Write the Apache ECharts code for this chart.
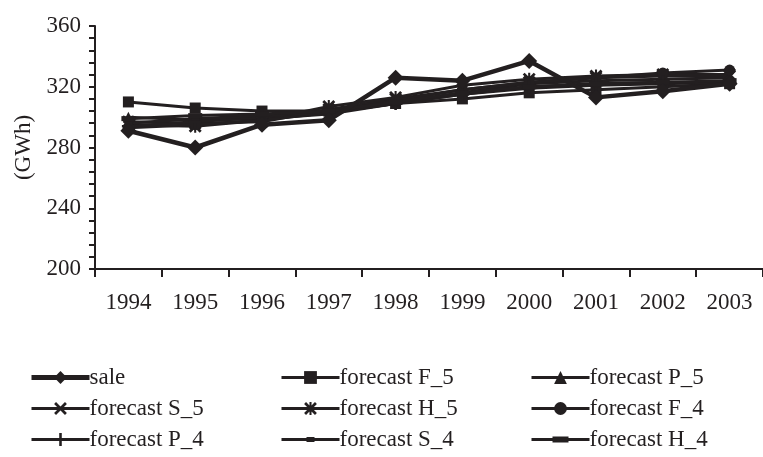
<!DOCTYPE html>
<html>
<head>
<meta charset="utf-8">
<script src="https://cdn.jsdelivr.net/npm/echarts@6/dist/echarts.min.js"></script>
<style>
html,body{margin:0;padding:0;background:#fff;}
#c{width:763px;height:457px;}
</style>
</head>
<body>
<div id="c"></div>
<script>
const years = ['1994','1995','1996','1997','1998','1999','2000','2001','2002','2003'];
const sale      = [291, 280, 295, 298, 326, 324, 337, 313, 317, 322];
const forecastF5 = [310, 306, 304, 304, 309, 312, 316, 318, 320, 322];
const forecastP5 = [300, 298, 299, 302, 309, 316, 322, 324, 325, 326];
const forecastS5 = [297, 296, 297, 305, 312, 318, 323, 326, 327, 327];
const forecastH5 = [295, 294, 298, 307, 313, 321, 325, 327, 328, 328];
const forecastF4 = [293, 295, 298, 303, 311, 318, 323, 326, 329, 331];
const forecastP4 = [294, 297, 300, 303, 309, 315, 320, 322, 323, 322];
const forecastS4 = [296, 299, 301, 303, 309, 315, 319, 321, 322, 323];
const forecastH4 = [299, 301, 302, 304, 310, 316, 320, 322, 323, 324];
const yTicks = [200, 240, 280, 320, 360];

const INK = '#231f20';
const FONT = 'Liberation Serif';
const X_PATH = 'path://M0,1.5 L1.5,0 L10,8.5 L8.5,10 Z M8.5,0 L10,1.5 L1.5,10 L0,8.5 Z';
const AST_PATH = 'path://M0,1.5 L1.5,0 L10,8.5 L8.5,10 Z M8.5,0 L10,1.5 L1.5,10 L0,8.5 Z M4.2,0 L5.8,0 L5.8,10 L4.2,10 Z';
const PLUS_PATH = 'path://M4,0 L6,0 L6,4 L10,4 L10,6 L6,6 L6,10 L4,10 L4,6 L0,6 L0,4 L4,4 Z';
const LEG_S4 = 'path://M0,5.5 L58,5.5 L58,8.5 L0,8.5 Z M25,4.5 L33,4.5 L33,9.5 L25,9.5 Z';
const LEG_H4 = 'path://M0,5.5 L58,5.5 L58,8.5 L0,8.5 Z M21,4 L37,4 L37,10 L21,10 Z';

function mk(name, data, symbol, size, width) {
  return {
    name: name, type: 'line', data: data,
    symbol: symbol, symbolSize: size,
    lineStyle: {color: INK, width: width},
    itemStyle: {color: INK, borderWidth: 0},
    animation: false, z: name === 'sale' ? 3 : 2
  };
}
const series = [
  mk('sale', sale, 'diamond', 16, 4.5),
  mk('forecast F_5', forecastF5, 'rect', 11, 3),
  mk('forecast P_5', forecastP5, 'triangle', 11, 3),
  mk('forecast S_5', forecastS5, X_PATH, 13, 3),
  mk('forecast H_5', forecastH5, AST_PATH, 13, 3),
  mk('forecast F_4', forecastF4, 'circle', 11, 3),
  mk('forecast P_4', forecastP4, PLUS_PATH, 13, 3),
  mk('forecast S_4', forecastS4, 'rect', [8, 4], 3),
  mk('forecast H_4', forecastH4, 'rect', [14, 5], 3)
];
const names = series.map(s => s.name);
function legItem(i) {
  const it = {name: names[i], lineStyle: {width: i === 0 ? 5 : 3, color: INK}};
  if (i === 7) it.icon = LEG_S4;
  if (i === 8) it.icon = LEG_H4;
  return it;
}
function leg(left, idx) {
  return {
    orient: 'vertical', left: left, top: 366, height: 120, padding: 0, itemGap: 8,
    itemWidth: 58, itemHeight: 16,
    data: idx.map(legItem),
    textStyle: {fontFamily: FONT, fontSize: 23, lineHeight: 23, color: INK, padding: [0,0,0,-5]},
    selectedMode: false
  };
}
const chart = echarts.init(document.getElementById('c'), null, {renderer: 'canvas'});
chart.setOption({
  animation: false,
  backgroundColor: '#fff',
  grid: {left: 95, right: -2, top: 26, bottom: 188, containLabel: false},
  legend: [leg(29, [0, 3, 6]), leg(280, [1, 4, 7]), leg(530, [2, 5, 8])],
  xAxis: {
    type: 'category', data: years, boundaryGap: true,
    axisLine: {lineStyle: {color: INK, width: 2}},
    axisTick: {show: true, length: 8, lineStyle: {color: INK, width: 2}},
    axisLabel: {fontFamily: FONT, fontSize: 23, color: INK, margin: 22}
  },
  yAxis: {
    type: 'value', min: yTicks[0], max: yTicks[yTicks.length-1], interval: 40,
    name: '(GWh)', nameLocation: 'middle', nameGap: 57, nameRotate: 90,
    nameTextStyle: {fontFamily: FONT, fontSize: 23, color: INK},
    axisLine: {show: true, lineStyle: {color: INK, width: 2}},
    axisTick: {show: true, length: 6, lineStyle: {color: INK, width: 2}},
    minorTick: {show: true, splitNumber: 5, length: 6, lineStyle: {color: INK, width: 2}},
    splitLine: {show: false},
    axisLabel: {fontFamily: FONT, fontSize: 23, color: INK, margin: 14}
  },
  series: series
});
</script>
</body>
</html>
